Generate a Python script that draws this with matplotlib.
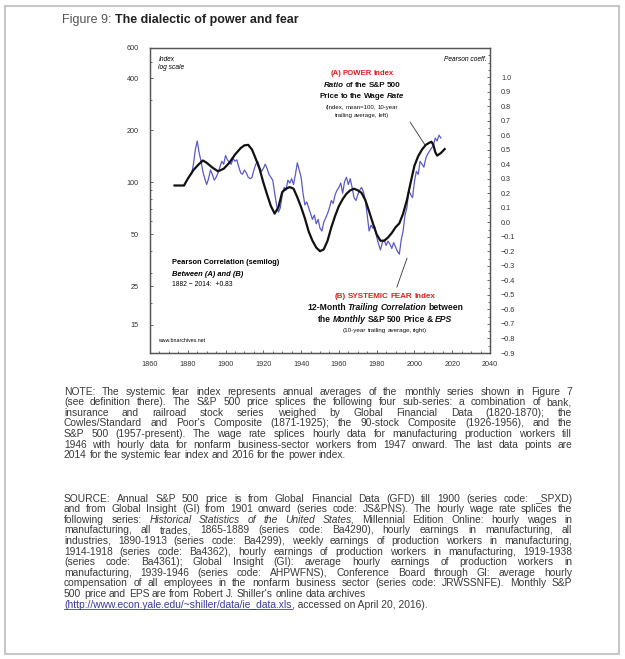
import matplotlib
matplotlib.use("Agg")
import matplotlib.pyplot as plt
from matplotlib.ticker import FixedLocator, MultipleLocator, NullFormatter, LogLocator
from matplotlib.lines import Line2D
from matplotlib.patches import Rectangle

plt.rcParams['font.family'] = ['Liberation Sans', 'DejaVu Sans']

# (A) power index, 10-year trailing average, left log axis
power_years = [1873, 1876, 1878, 1880, 1883, 1886, 1888, 1890, 1893, 1896, 1899,
               1902, 1905, 1908, 1910, 1912, 1914, 1916, 1918, 1920, 1922, 1924,
               1926, 1928, 1930, 1932, 1934, 1936, 1938, 1940, 1942, 1944, 1946,
               1948, 1950, 1952, 1954, 1956, 1958, 1960, 1962, 1964, 1966, 1968,
               1970, 1972, 1974, 1976, 1978, 1980, 1982, 1984, 1986, 1988, 1990,
               1992, 1994, 1996, 1998, 2000, 2002, 2004, 2006, 2008, 2009, 2010,
               2011, 2012, 2014, 2016]
power_vals = [96, 96, 96, 105, 118, 128, 134, 130, 122, 116, 120,
              130, 145, 158, 164, 165, 155, 137, 120, 100, 85, 73,
              66, 72, 88, 92, 94, 92, 82, 72, 62, 52, 46,
              42, 40, 41, 46, 55, 64, 73, 80, 86, 90, 92,
              90, 87, 79, 68, 58, 50, 46, 46, 48, 51, 55,
              58, 66, 79, 100, 125, 142, 155, 165, 170, 172, 165,
              150, 143, 148, 156]

# (B) systemic fear index, right axis (Pearson coeff.)
fear_years = list(range(1882, 2015))
fear_vals = [0.33, 0.40, 0.50, 0.56, 0.48, 0.42, 0.35, 0.30, 0.26, 0.30,
             0.36, 0.33, 0.29, 0.31, 0.34, 0.38, 0.42, 0.40, 0.46, 0.43,
             0.41, 0.40, 0.44, 0.42, 0.43, 0.38, 0.34, 0.33, 0.36, 0.34,
             0.31, 0.30, 0.31, 0.36, 0.40, 0.42, 0.38, 0.35, 0.37, 0.40,
             0.37, 0.33, 0.31, 0.29, 0.20, 0.12, 0.07, 0.10, 0.19, 0.24,
             0.22, 0.29, 0.27, 0.30, 0.26, 0.33, 0.41, 0.36, 0.31, 0.20,
             0.12, 0.14, 0.10, 0.06, 0.02, 0.05, -0.01, 0.02, -0.04, -0.06,
             0.00, 0.03, 0.06, 0.10, 0.15, 0.13, 0.19, 0.22, 0.24, 0.27,
             0.20, 0.28, 0.31, 0.26, 0.30, 0.24, 0.17, 0.15, 0.19, 0.22,
             0.24, 0.21, 0.15, 0.05, -0.06, -0.02, -0.04, -0.03, -0.10, -0.15,
             -0.19, -0.14, -0.12, -0.16, -0.13, -0.15, -0.18, -0.14, -0.17, -0.20,
             -0.22, -0.12, -0.06, 0.05, 0.10, 0.22, 0.19, 0.17, 0.28, 0.35,
             0.33, 0.42, 0.40, 0.38, 0.44, 0.47, 0.49, 0.51, 0.53, 0.58,
             0.56, 0.60, 0.58]

left_ticks = [15, 25, 50, 100, 200, 400, 600]
right_ticks = [round(-0.9 + 0.1 * i, 1) for i in range(20)]
x_ticks = list(range(1860, 2041, 20))

note_lines = [
    "NOTE: The systemic fear index represents annual averages of the monthly series shown in Figure 7",
    "(see definition there). The S&P 500 price splices the following four sub-series: a combination of bank,",
    "insurance and railroad stock series weighed by Global Financial Data (1820-1870); the",
    "Cowles/Standard and Poor's Composite (1871-1925); the 90-stock Composite (1926-1956), and the",
    "S&P 500 (1957-present). The wage rate splices hourly data for manufacturing production workers till",
    "1946 with hourly data for nonfarm business-sector workers from 1947 onward. The last data points are",
    "2014 for the systemic fear index and 2016 for the power index.",
]
# words starting with ~ are set in italics
source_lines = [
    "SOURCE: Annual S&P 500 price is from Global Financial Data (GFD) till 1900 (series code: _SPXD)",
    "and from Global Insight (GI) from 1901 onward (series code: JS&PNS). The hourly wage rate splices the",
    "following series: ~Historical ~Statistics ~of ~the ~United ~States, Millennial Edition Online: hourly wages in",
    "manufacturing, all trades, 1865-1889 (series code: Ba4290), hourly earnings in manufacturing, all",
    "industries, 1890-1913 (series code: Ba4299), weekly earnings of production workers in manufacturing,",
    "1914-1918 (series code: Ba4362), hourly earnings of production workers in manufacturing, 1919-1938",
    "(series code: Ba4361); Global Insight (GI): average hourly earnings of production workers in",
    "manufacturing, 1939-1946 (series code: AHPWFNS), Conference Board through GI: average hourly",
    "compensation of all employees in the nonfarm business sector (series code: JRWSSNFE). Monthly S&P",
    "500 price and EPS are from Robert J. Shiller's online data archives",
]
link_text = "(http://www.econ.yale.edu/~shiller/data/ie_data.xls"
link_rest = ", accessed on April 20, 2016)."

W, H = 625, 659
fig = plt.figure(figsize=(W / 100, H / 100), dpi=100)
fig.patch.set_facecolor('white')
fig.add_artist(Rectangle((5 / W, 5 / H), 1 - 11 / W, 1 - 11 / H, transform=fig.transFigure,
                         fill=False, edgecolor='#c8c8c8', linewidth=1.5))
r = fig.canvas.get_renderer()


def words_at(words, size, y, color, weight):
    # place words on a common baseline, ~word means italic; returns texts and widths
    items = []
    for w in words.split(' '):
        style = 'normal'
        if w.startswith('~'):
            style, w = 'italic', w[1:]
        items.append(fig.text(0, 1 - (y + size * 0.35 * 100 / 72) / H, w, fontsize=size,
                              style=style, color=color, fontweight=weight,
                              va='baseline', ha='left'))
    return items, [t.get_window_extent(r).width for t in items]


def mixed(xc, y, words, size, color='#111111', weight='bold'):
    # one centred line in figure pixels
    items, widths = words_at(words, size, y, color, weight)
    gap = size * 0.22 * 100 / 72
    x = xc - (sum(widths) + gap * (len(items) - 1)) / 2
    for t, w in zip(items, widths):
        t.set_x(x / W)
        x += w + gap


def justified(lines, left, right, top, step, size, color='#3a3a3a'):
    space = size * 0.26 * 100 / 72
    for i, line in enumerate(lines):
        items, widths = words_at(line, size, top + i * step, color, 'normal')
        if i == len(lines) - 1:
            gap = space
        else:
            gap = max((right - left - sum(widths)) / (len(items) - 1), space * 0.7)
        x = left
        for t, w in zip(items, widths):
            t.set_x(x / W)
            x += w + gap


# title
t1 = fig.text(62 / W, 1 - 23 / H, "Figure 9: ", fontsize=9, color='#555555', va='baseline')
w1 = t1.get_window_extent(r).width
fig.text((62 + w1) / W, 1 - 23 / H, "The dialectic of power and fear", fontsize=9,
         fontweight='bold', color='#222222', va='baseline')

# chart
x0, x1, y0, y1 = 150, 490, 48, 353
ax = fig.add_axes([x0 / W, 1 - y1 / H, (x1 - x0) / W, (y1 - y0) / H])
ax2 = ax.twinx()
ax.set_zorder(ax2.get_zorder() + 1)
ax.patch.set_visible(False)

ax2.plot(fear_years, fear_vals, color='#5a5ac8', linewidth=0.9)
ax.plot(power_years, power_vals, color='#111111', linewidth=1.6)

ax.set_yscale('log')
ax.set_ylim(10.3, 600)
ax.set_xlim(1860, 2040)
ax2.set_ylim(-0.9, 1.2)

ax.yaxis.set_major_locator(FixedLocator(left_ticks))
ax.set_yticklabels([str(v) for v in left_ticks])
ax.yaxis.set_minor_locator(LogLocator(subs=(2, 3, 4, 5, 6, 7, 8, 9)))
ax.yaxis.set_minor_formatter(NullFormatter())
ax.xaxis.set_major_locator(FixedLocator(x_ticks))
ax.xaxis.set_minor_locator(MultipleLocator(5))
ax2.yaxis.set_major_locator(FixedLocator(right_ticks))
ax2.set_yticklabels([f"{v:.1f}".replace('-', '\u2212') for v in right_ticks])
ax2.yaxis.set_minor_locator(MultipleLocator(0.05))

for a in (ax, ax2):
    a.tick_params(which='both', direction='in', colors='#555555', labelcolor='#333333',
                  labelsize=5.2, width=0.6)
    a.tick_params(which='major', length=2.5)
    a.tick_params(which='minor', length=1.5)
    for s in a.spines.values():
        s.set_color('#555555')
        s.set_linewidth(0.9)
ax.tick_params(axis='y', pad=8)
ax2.tick_params(axis='y', pad=8)
ax.tick_params(axis='x', pad=6)

tr = ax.transAxes
ax.text(0.025, 0.975, "Index\nlog scale", transform=tr, fontsize=4.8, style='italic',
        va='top', linespacing=1.3)
ax.text(0.99, 0.975, "Pearson coeff.", transform=tr, fontsize=4.8, style='italic',
        va='top', ha='right')

# (A) label block, positions in figure pixels
mixed(362, 72, "(A) POWER Index", 5.6, color='#e02020')
mixed(362, 84, "~Ratio of the S&P 500", 5.8)
mixed(362, 95.5, "Price to the Wage ~Rate", 5.8)
mixed(362, 106.5, "(Index, mean=100, 10-year", 4.3, weight='normal')
mixed(362, 115, "trailing average, left)", 4.3, weight='normal')
ax.add_line(Line2D([0.765, 0.809], [0.757, 0.682], transform=tr, color='#333333', linewidth=0.6))

ax.text(0.065, 0.298, "Pearson Correlation (semilog)", transform=tr, fontsize=5.4,
        fontweight='bold', va='center')
ax.text(0.065, 0.259, "Between (A) and (B)", transform=tr, fontsize=5.4,
        fontweight='bold', style='italic', va='center')
ax.text(0.065, 0.223, "1882 \u2212 2014:  +0.83", transform=tr, fontsize=4.9, va='center')

# (B) label block
mixed(385, 295, "(B) SYSTEMIC FEAR Index", 5.8, color='#e02020')
mixed(385, 307, "12-Month ~Trailing ~Correlation between", 6.2)
mixed(385, 318.5, "the ~Monthly S&P 500 Price & ~EPS", 6.2)
mixed(385, 330, "(10-year trailing average, right)", 4.5, weight='normal')
ax.add_line(Line2D([0.726, 0.756], [0.216, 0.311], transform=tr, color='#333333', linewidth=0.6))
ax.text(0.025, 0.04, "www.bnarchives.net", transform=tr, fontsize=3.8, va='center')

tx0, tx1 = 64, 572
fs = 7.4
justified(note_lines, tx0, tx1, 391, 10.6, fs)
justified(source_lines, tx0, tx1, 498, 10.6, fs)

ly = 498 + 10 * 10.6
base = 1 - (ly + fs * 0.35 * 100 / 72) / H
lt = fig.text(tx0 / W, base, link_text, fontsize=fs, color='#3a3aa0', va='baseline')
lw = lt.get_window_extent(r).width
fig.text((tx0 + lw) / W, base, link_rest, fontsize=fs, color='#3a3a3a', va='baseline')
fig.add_artist(Line2D([tx0 / W, (tx0 + lw) / W], [base - 1.5 / H] * 2,
                      transform=fig.transFigure, color='#3a3aa0', linewidth=0.6))

fig.savefig("out.png", dpi=100)
